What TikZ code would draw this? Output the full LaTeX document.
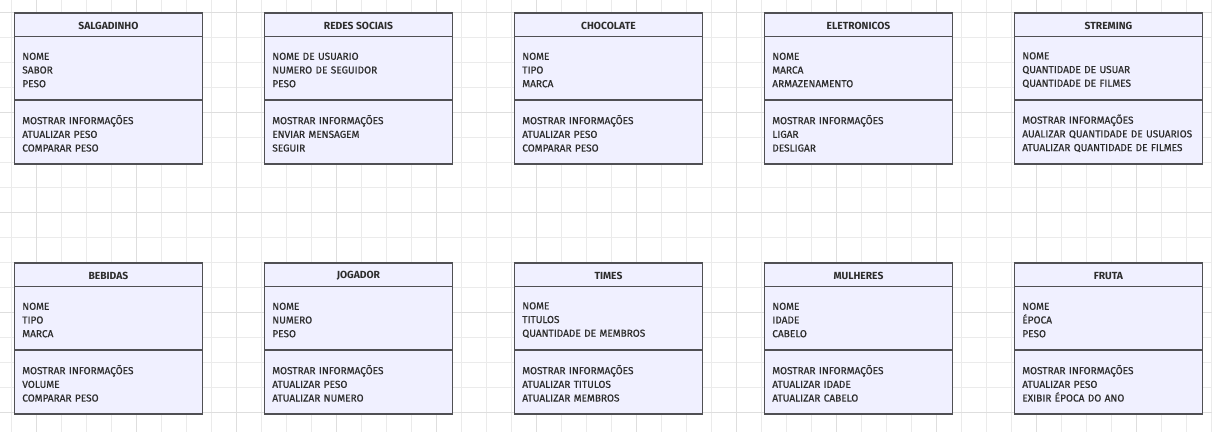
\documentclass[tikz,border=0pt]{standalone}
\usepackage{fontspec}
\setmainfont{Fira Sans}
\newfontfamily\medfont{Fira Sans}[FakeBold=0.6]
\definecolor{gridminor}{RGB}{235,235,235}
\definecolor{gridmajor}{RGB}{222,222,222}
\definecolor{boxfill}{RGB}{240,240,255}
\definecolor{boxline}{RGB}{80,80,84}
\definecolor{txt}{RGB}{45,45,45}
\tikzset{
  gridminorline/.style={draw=gridminor, line width=0.9pt},
  gridmajorline/.style={draw=gridmajor, line width=0.9pt},
  classhead/.style={draw=boxline, fill=boxfill, line width=1.4pt, minimum width=187.5pt,
    minimum height=23.7pt, inner sep=0pt, outer sep=0pt, text=txt,
    font=\fontsize{10.3}{12}\selectfont\bfseries},
  classsec/.style={draw=boxline, fill=boxfill, line width=1.3pt, text width=172.3pt,
    inner xsep=7.6pt, inner ysep=0pt, outer sep=0pt, align=left, text=txt,
    font=\medfont\fontsize{10.1}{13.7}\selectfont},
}
\newcommand\umlclass[6]{%
  \node[classhead, anchor=north west] (#1-h) at (#2,#3) {\rule{0pt}{9.4pt}#4};
  \node[classsec, minimum height=63.3pt, anchor=north] (#1-a) at (#1-h.south) {\rule{0pt}{10.4pt}#5};
  \node[classsec, minimum height=64pt, anchor=north] (#1-m) at (#1-a.south) {\rule{0pt}{11.8pt}#6};
}
\begin{document}
\begin{tikzpicture}[x=1pt, y=-1pt]
\useasboundingbox (0,0) rectangle (1212,432);
\fill[white] (0,0) rectangle (1212,432);
\foreach \k in {0,...,48} { \draw[gridminorline] (11.7+25*\k,0) -- (11.7+25*\k,432); }
\foreach \k in {0,...,17} { \draw[gridminorline] (0,12.3+25*\k) -- (1212,12.3+25*\k); }
\foreach \k in {0,...,11} { \draw[gridmajorline] (36.7+100*\k,0) -- (36.7+100*\k,432); }
\foreach \k in {0,...,4} { \draw[gridmajorline] (0,12.3+100*\k) -- (1212,12.3+100*\k); }

\umlclass{salg}{14.7}{13}{SALGADINHO}{NOME\\SABOR\\PESO}{MOSTRAR INFORMAÇÕES\\ATUALIZAR PESO\\COMPARAR PESO}
\umlclass{redes}{264.7}{13}{REDES SOCIAIS}{NOME DE USUARIO\\NUMERO DE SEGUIDOR\\PESO}{MOSTRAR INFORMAÇÕES\\ENVIAR MENSAGEM\\SEGUIR}
\umlclass{choc}{514.7}{13}{CHOCOLATE}{NOME\\TIPO\\MARCA}{MOSTRAR INFORMAÇÕES\\ATUALIZAR PESO\\COMPARAR PESO}
\umlclass{elet}{764.7}{13}{ELETRONICOS}{NOME\\MARCA\\ARMAZENAMENTO}{MOSTRAR INFORMAÇÕES\\LIGAR\\DESLIGAR}
\umlclass{strem}{1014.7}{13}{STREMING}{NOME\\QUANTIDADE DE USUAR\\QUANTIDADE DE FILMES}{MOSTRAR INFORMAÇÕES\\AUALIZAR QUANTIDADE DE USUARIOS\\ATUALIZAR QUANTIDADE DE FILMES}

\umlclass{bebi}{14.7}{263}{BEBIDAS}{NOME\\TIPO\\MARCA}{MOSTRAR INFORMAÇÕES\\VOLUME\\COMPARAR PESO}
\umlclass{jog}{264.7}{263}{JOGADOR}{NOME\\NUMERO\\PESO}{MOSTRAR INFORMAÇÕES\\ATUALIZAR PESO\\ATUALIZAR NUMERO}
\umlclass{times}{514.7}{263}{TIMES}{NOME\\TITULOS\\QUANTIDADE DE MEMBROS}{MOSTRAR INFORMAÇÕES\\ATUALIZAR TITULOS\\ATUALIZAR MEMBROS}
\umlclass{mulh}{764.7}{263}{MULHERES}{NOME\\IDADE\\CABELO}{MOSTRAR INFORMAÇÕES\\ATUALIZAR IDADE\\ATUALIZAR CABELO}
\umlclass{fruta}{1014.7}{263}{FRUTA}{NOME\\ÉPOCA\\PESO}{MOSTRAR INFORMAÇÕES\\ATUALIZAR PESO\\EXIBIR ÉPOCA DO ANO}
\end{tikzpicture}
\end{document}
